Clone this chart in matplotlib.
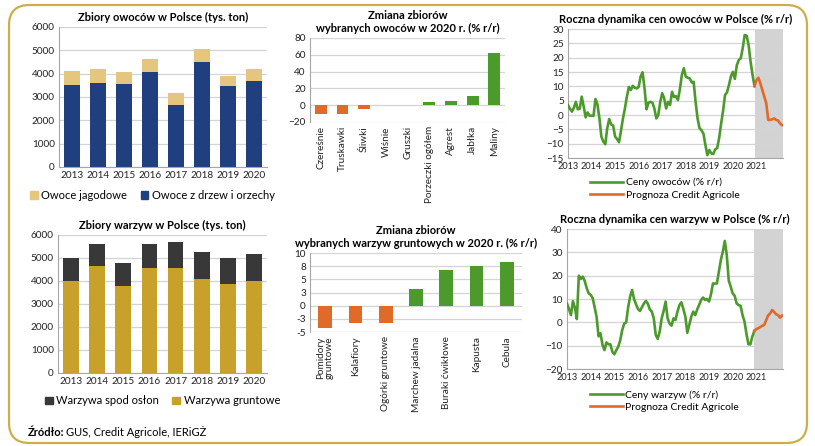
import matplotlib.pyplot as plt
import numpy as np
from matplotlib.patches import FancyBboxPatch
from matplotlib.lines import Line2D
from matplotlib.patches import Patch

plt.rcParams['font.family'] = ['Lato', 'DejaVu Sans']
plt.rcParams['font.size'] = 7.5

# --- data ---
years = ['2013', '2014', '2015', '2016', '2017', '2018', '2019', '2020']
fruit_trees = [3530, 3620, 3540, 4050, 2650, 4490, 3460, 3700]
fruit_berries = [590, 570, 520, 590, 500, 570, 460, 500]

veg_field = [4010, 4650, 3790, 4550, 4580, 4100, 3850, 4020]
veg_cover = [970, 950, 1000, 1050, 1110, 1160, 1150, 1150]

fruit_names = ['Czereśnie', 'Truskawki', 'Śliwki', 'Wiśnie', 'Gruszki',
               'Porzeczki ogółem', 'Agrest', 'Jabłka', 'Maliny']
fruit_change = [-10, -10, -5, 0, 0, 4, 4.4, 10.4, 62]

veg_names = ['Pomidory\ngruntowe', 'Kalafiory', 'Ogórki gruntowe', 'Marchew jadalna',
             'Buraki ćwikłowe', 'Kapusta', 'Cebula']
veg_change = [-4.2, -3.2, -3.2, 3.2, 6.8, 7.5, 8.3]
veg_change_ticks = [-5, -2.5, 0, 2.5, 5, 7.5, 10]
veg_change_ticklabels = ['-5', '-3', '0', '3', '5', '8', '10']

# monthly y/y, Jan 2013 onward
fruit_price = [3.5, 2.2, 1.2, 2.5, 4.6, 2.0, 2.2, 6.4, 3.0, -0.8, 0.9, -0.3,
               -0.2, -0.3, 5.6, 3.7, -1.0, -7.5, -9.3, -10.2, -4.6, -1.4, -3.3, -3.7,
               -7.5, -8.4, -9.5, -5.5, -1.2, 2.3, 6.4, 9.8, 8.7, 10.2, 9.5, 9.3,
               9.8, 13.4, 14.9, 9.3, 2.0, 4.3, 4.6, 4.3, 2.3, -1.2, 0.0, 4.6,
               7.6, 5.8, 2.3, 4.6, 3.5, 8.1, 6.3, 6.6, 5.2, 9.0, 14.0, 16.3,
               13.4, 13.0, 12.8, 11.4, 11.6, 4.6, -1.2, -4.6, -5.3, -6.5, -10.5, -14.0,
               -12.2, -13.4, -13.6, -12.0, -11.5, -8.0, -3.0, 1.5, 7.0, 7.9, 10.5, 13.5,
               15.1, 12.6, 17.4, 19.2, 19.8, 23.3, 27.9, 27.7, 24.4, 18.6, 14.0, 10.1]
fruit_forecast = [10.1, 12.2, 13.0, 11.0, 8.7, 6.4, 4.1, -1.7, -1.7, -1.5, -1.2, -1.7,
                  -1.9, -2.9, -3.5]

veg_price = [8.1, 5.7, 3.1, 9.1, 6.3, 1.4, 20.0, 18.6, 19.6, 17.7, 14.6, 12.4,
             11.8, 10.5, 6.5, 2.4, -6.0, -4.7, -9.7, -11.9, -8.6, -9.4, -9.4, -12.6,
             -13.7, -11.9, -10.4, -7.6, -3.3, -0.5, 0.0, 6.5, 11.0, 13.9, 10.0, 7.7,
             5.7, 4.9, 6.5, 8.1, 9.2, 8.0, 5.5, 4.6, 1.7, -5.4, -7.1, -4.0,
             1.7, 4.9, 8.9, 1.7, -0.5, -1.4, 1.7, 1.0, 4.6, 7.4, 8.6, 5.7,
             2.5, -4.5, -1.1, 2.4, 4.6, 3.1, 5.5, 7.5, 9.6, 10.6, 9.6, 10.0,
             8.9, 12.0, 16.7, 16.6, 16.7, 21.7, 26.7, 30.3, 34.9, 28.9, 18.0, 15.3,
             12.4, 11.4, 8.1, 7.4, 7.1, 3.1, 0.3, -5.0, -9.4, -9.4, -6.0, -3.7]
veg_forecast = [-3.7, -2.9, -2.5, -2.0, -1.5, -1.1, 1.0, 3.0, 3.8, 5.3, 4.5, 3.5,
                3.1, 2.0, 2.9]

year_labels = ['2013', '2014', '2015', '2016', '2017', '2018', '2019', '2020', '2021']

# --- colours ---
c_blue = '#1F3F7F'
c_tan = '#E5C67E'
c_dark = '#383838'
c_gold = '#C8A12A'
c_green = '#4D9A2C'
c_orange = '#E06A2A'
c_grid = '#D4D4D4'
c_axis = '#A6A6A6'

fig = plt.figure(figsize=(8.15, 4.46), dpi=100)

# rounded frame
frame = FancyBboxPatch((9 / 815, 3 / 446), 798 / 815, 438 / 446,
                       boxstyle='round,pad=0,rounding_size=0.025',
                       transform=fig.transFigure, fill=False,
                       edgecolor='#CDAE4A', linewidth=1.6, mutation_aspect=815 / 446)
fig.patches.append(frame)


def style_axes(ax):
    for s in ['top', 'right']:
        ax.spines[s].set_visible(False)
    ax.spines['left'].set_color(c_axis)
    ax.spines['bottom'].set_color(c_axis)
    ax.yaxis.grid(True, color=c_grid, linewidth=0.9)
    ax.set_axisbelow(True)
    ax.tick_params(length=0, pad=3, labelsize=7.2, colors='#222222')


def stacked(ax, bottom_vals, top_vals, c_bot, c_top, title):
    x = np.arange(len(years))
    ax.bar(x, bottom_vals, width=0.6, color=c_bot)
    ax.bar(x, top_vals, width=0.6, bottom=bottom_vals, color=c_top)
    ax.set_xlim(-0.5, len(years) - 0.5)
    ax.set_ylim(0, 6000)
    ax.set_yticks(range(0, 6001, 1000))
    ax.set_xticks(x)
    ax.set_xticklabels(years)
    style_axes(ax)
    ax.set_title(title, fontsize=8, fontweight='bold', pad=4)
    return x


# panel 1
ax1 = fig.add_axes([0.0724, 0.6256, 0.2552, 0.3139])
stacked(ax1, fruit_trees, fruit_berries, c_blue, c_tan,
        'Zbiory owoców w Polsce (tys. ton)')
ax1.legend(handles=[Patch(color=c_tan, label='Owoce jagodowe'),
                    Patch(color=c_blue, label='Owoce z drzew i orzechy')],
           loc='upper center', bbox_to_anchor=(0.45, -0.13), ncol=2, frameon=False,
           fontsize=8, handlelength=0.7, handleheight=0.7, handletextpad=0.3,
           columnspacing=1.2, borderaxespad=0)

# panel 4
ax4 = fig.add_axes([0.0712, 0.1637, 0.2564, 0.3094])
stacked(ax4, veg_field, veg_cover, c_gold, c_dark,
        'Zbiory warzyw w Polsce (tys. ton)')
ax4.legend(handles=[Patch(color=c_dark, label='Warzywa spod osłon'),
                    Patch(color=c_gold, label='Warzywa gruntowe')],
           loc='upper center', bbox_to_anchor=(0.5, -0.13), ncol=2, frameon=False,
           fontsize=8, handlelength=0.7, handleheight=0.7, handletextpad=0.3,
           columnspacing=1.2, borderaxespad=0)


def change_bars(ax, names, vals, width, title):
    x = np.arange(len(names))
    cols = [c_green if v > 0 else c_orange for v in vals]
    ax.bar(x, vals, width=width, color=cols)
    ax.set_xlim(-0.5, len(names) - 0.5)
    ax.set_xticks(x)
    ax.set_xticklabels(names, rotation=90, va='top', ha='center', linespacing=1.0)
    style_axes(ax)
    ax.spines['bottom'].set_visible(False)
    ax.set_title(title, fontsize=8, fontweight='bold', pad=4, linespacing=1.3)


# panel 2
ax2 = fig.add_axes([0.3804, 0.7265, 0.2393, 0.1883])
change_bars(ax2, fruit_names, fruit_change, 0.55,
            'Zmiana zbiorów\nwybranych owoców w 2020 r. (% r/r)')
ax2.set_ylim(-20, 80)
ax2.set_yticks(range(-20, 81, 20))

# panel 5
ax5 = fig.add_axes([0.3804, 0.2556, 0.2601, 0.1771])
change_bars(ax5, veg_names, veg_change, 0.45,
            'Zmiana zbiorów\nwybranych warzyw gruntowych w 2020 r. (% r/r)')
ax5.set_ylim(-5, 10)
ax5.set_yticks(veg_change_ticks)
ax5.set_yticklabels(veg_change_ticklabels)


def price_panel(ax, hist, fc, ymin, ymax, step, title, lab):
    n_hist = len(hist)
    t_hist = np.arange(n_hist)
    t_fc = np.arange(n_hist - 1, n_hist - 1 + len(fc))
    end = t_fc[-1] + 0.5
    ax.axvspan(n_hist - 1, end, color='#D3D3D3', zorder=0, lw=0)
    ax.plot(t_hist, hist, color=c_green, lw=1.9, zorder=3)
    ax.plot(t_fc, fc, color=c_orange, lw=1.9, zorder=3)
    ax.set_xlim(0, end)
    ax.set_ylim(ymin, ymax)
    ax.set_yticks(np.arange(ymin, ymax + 1, step))
    ax.set_xticks(np.arange(0, 12 * len(year_labels), 12))
    ax.set_xticklabels(year_labels)
    style_axes(ax)
    ax.tick_params(axis='x', labelsize=6.6)
    ax.set_title(title, fontsize=8, fontweight='bold', pad=4)
    ax.legend(handles=[Line2D([], [], color=c_green, lw=1.9, label=lab),
                       Line2D([], [], color=c_orange, lw=1.9, label='Prognoza Credit Agricole')],
              loc='upper center', bbox_to_anchor=(0.45, -0.12), ncol=1, frameon=False,
              fontsize=7.5, handlelength=3.2, handletextpad=0.2, labelspacing=0.3,
              borderaxespad=0)


# panel 3
ax3 = fig.add_axes([0.6969, 0.6457, 0.2638, 0.2892])
price_panel(ax3, fruit_price, fruit_forecast, -15, 30, 5,
            'Roczna dynamika cen owoców w Polsce (% r/r)', 'Ceny owoców (% r/r)')

# panel 6
ax6 = fig.add_axes([0.6957, 0.1726, 0.265, 0.3139])
price_panel(ax6, veg_price, veg_forecast, -20, 40, 10,
            'Roczna dynamika cen warzyw w Polsce (% r/r)', 'Ceny warzyw (% r/r)')

# source
fig.text(28 / 815, 1 - 432 / 446, 'Źródło:', fontsize=8, fontweight='bold', va='center')
fig.text(66 / 815, 1 - 432 / 446, 'GUS, Credit Agricole, IERiGŻ', fontsize=8, va='center')

fig.savefig('out.png', dpi=100)
